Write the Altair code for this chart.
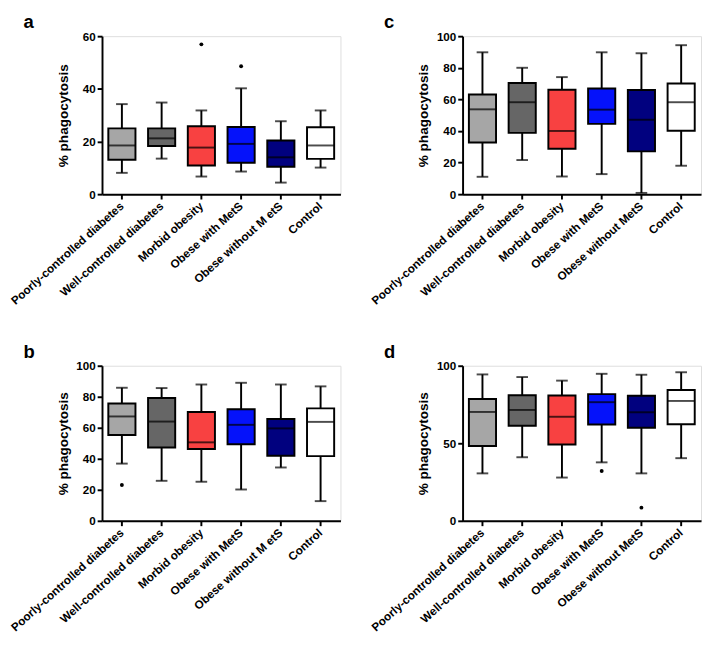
import altair as alt
import pandas as pd

# Category labels (panels a/b show "M etS" as in the source figure)
labels_ab = ["Poorly-controlled diabetes", "Well-controlled diabetes", "Morbid obesity",
             "Obese with MetS", "Obese without M etS", "Control"]
labels_cd = ["Poorly-controlled diabetes", "Well-controlled diabetes", "Morbid obesity",
             "Obese with MetS", "Obese without MetS", "Control"]
fill_colors = ["#a6a6a6", "#666666", "#f84141", "#0512fa", "#01017f", "#ffffff"]

# Panel a
a_min = [8.1, 13.5, 6.7, 8.6, 4.4, 10.1]
a_q1 = [13.1, 18.3, 10.9, 11.9, 10.4, 13.4]
a_med = [18.5, 21.2, 17.7, 19.1, 14.0, 18.5]
a_q3 = [25.0, 25.0, 25.8, 25.5, 20.4, 25.4]
a_max = [34.2, 34.8, 31.8, 40.2, 27.7, 31.8]
a_out_idx = [2, 3]
a_out_val = [56.9, 48.6]

# Panel b
b_min = [36.9, 25.8, 25.2, 20.2, 34.4, 12.7]
b_q1 = [55.4, 47.3, 46.3, 49.4, 41.9, 41.7]
b_med = [67.3, 64.0, 50.6, 61.9, 59.6, 63.8]
b_q3 = [75.6, 79.2, 70.2, 71.9, 65.6, 72.5]
b_max = [85.8, 85.6, 87.9, 89.0, 87.9, 86.7]
b_out_idx = [0]
b_out_val = [23.1]

# Panel c
c_min = [11.0, 21.6, 11.2, 12.7, 0.8, 18.0]
c_q1 = [32.7, 38.8, 28.8, 44.5, 27.1, 40.2]
c_med = [53.7, 58.2, 40.0, 53.5, 47.1, 58.2]
c_q3 = [63.1, 70.4, 66.1, 66.9, 65.9, 70.0]
c_max = [89.8, 80.0, 74.1, 89.8, 89.2, 94.3]
c_out_idx = []
c_out_val = []

# Panel d
d_min = [30.6, 41.0, 27.9, 37.7, 30.6, 40.4]
d_q1 = [48.3, 61.3, 49.2, 62.1, 60.0, 62.3]
d_med = [70.2, 71.5, 67.1, 76.5, 70.0, 77.3]
d_q3 = [78.5, 81.0, 80.8, 81.7, 80.6, 84.4]
d_max = [94.4, 92.7, 90.4, 94.8, 94.2, 95.8]
d_out_idx = [3, 4]
d_out_val = [32.1, 8.5]

FONT = "Liberation Sans"
W = 246


def panel(letter, labels, mins, q1s, meds, q3s, maxs, out_idx, out_val, ymax, yticks, height):
    df = pd.DataFrame({"cat": labels, "lo": mins, "q1": q1s, "med": meds,
                       "q3": q3s, "hi": maxs, "col": fill_colors})
    odf = pd.DataFrame({"cat": [labels[i] for i in out_idx], "val": out_val})
    xaxis = alt.Axis(labelAngle=-42, labelAlign="right", labelBaseline="middle",
                     labelFontSize=12, labelFontWeight="bold", labelFont=FONT,
                     labelColor="black", labelPadding=5, labelLimit=300,
                     domainColor="black", domainWidth=2, tickColor="black",
                     tickWidth=2, tickSize=5)
    xenc = alt.X("cat:N", sort=labels, title=None,
                 scale=alt.Scale(paddingInner=0, paddingOuter=0), axis=xaxis)
    yscale = alt.Scale(domain=[0, ymax], nice=False, zero=True)
    yaxis = alt.Axis(values=yticks, tickCount=len(yticks), title="% phagocytosis",
                     titleFontSize=14, titleFont=FONT, titleFontWeight="bold",
                     titleColor="black", titleX=-33, titleY=height / 2,
                     titleAngle=270, titleAlign="center", titleBaseline="bottom",
                     labelFontSize=12, labelFontWeight="bold", labelFont=FONT,
                     labelColor="black", labelPadding=2, labelOverlap=False,
                     domainColor="black", domainWidth=2, tickColor="black",
                     tickWidth=2, tickSize=5, grid=False)

    def Y(field):
        return alt.Y(field, scale=yscale, axis=yaxis, title="% phagocytosis")

    base = alt.Chart(df).encode(x=xenc)
    whisk = base.mark_rule(color="black", strokeWidth=2).encode(y=Y("lo:Q"), y2="hi:Q")
    box = base.mark_bar(size=28, stroke="black", strokeWidth=2).encode(
        y=Y("q1:Q"), y2="q3:Q", fill=alt.Fill("col:N", scale=None, legend=None))
    med = base.mark_tick(color="black", size=28, thickness=2).encode(y=Y("med:Q"))
    cap_lo = base.mark_tick(color="black", size=12, thickness=2).encode(y=Y("lo:Q"))
    cap_hi = base.mark_tick(color="black", size=12, thickness=2).encode(y=Y("hi:Q"))
    layers = [whisk, box, med, cap_lo, cap_hi]
    if len(odf):
        pts = alt.Chart(odf).mark_point(filled=True, color="black", size=16, opacity=1).encode(
            x=xenc, y=Y("val:Q"))
        layers.append(pts)
    lt = alt.Chart(pd.DataFrame({"t": [letter]})).mark_text(
        align="left", baseline="top", fontSize=19, fontWeight="bold",
        font=FONT, color="black").encode(text="t:N", x=alt.value(-81), y=alt.value(-23))
    layers.append(lt)
    return alt.layer(*layers).properties(width=W, height=height)


pa = panel("a", labels_ab, a_min, a_q1, a_med, a_q3, a_max, a_out_idx, a_out_val, 60, [0, 20, 40, 60], 163)
pb = panel("b", labels_ab, b_min, b_q1, b_med, b_q3, b_max, b_out_idx, b_out_val, 100, [0, 20, 40, 60, 80, 100], 160)
pc = panel("c", labels_cd, c_min, c_q1, c_med, c_q3, c_max, c_out_idx, c_out_val, 100, [0, 20, 40, 60, 80, 100], 163)
pd_ = panel("d", labels_cd, d_min, d_q1, d_med, d_q3, d_max, d_out_idx, d_out_val, 100, [0, 50, 100], 160)

chart = alt.vconcat(
    alt.hconcat(pa, pc, spacing=28),
    alt.hconcat(pb, pd_, spacing=28),
    spacing=36,
).properties(padding={"top": -5, "left": 0, "right": 0, "bottom": 0}).configure_view(
    stroke=None).configure(background="white")

chart.save("out.html", embed_options={"renderer": "svg", "actions": False})
